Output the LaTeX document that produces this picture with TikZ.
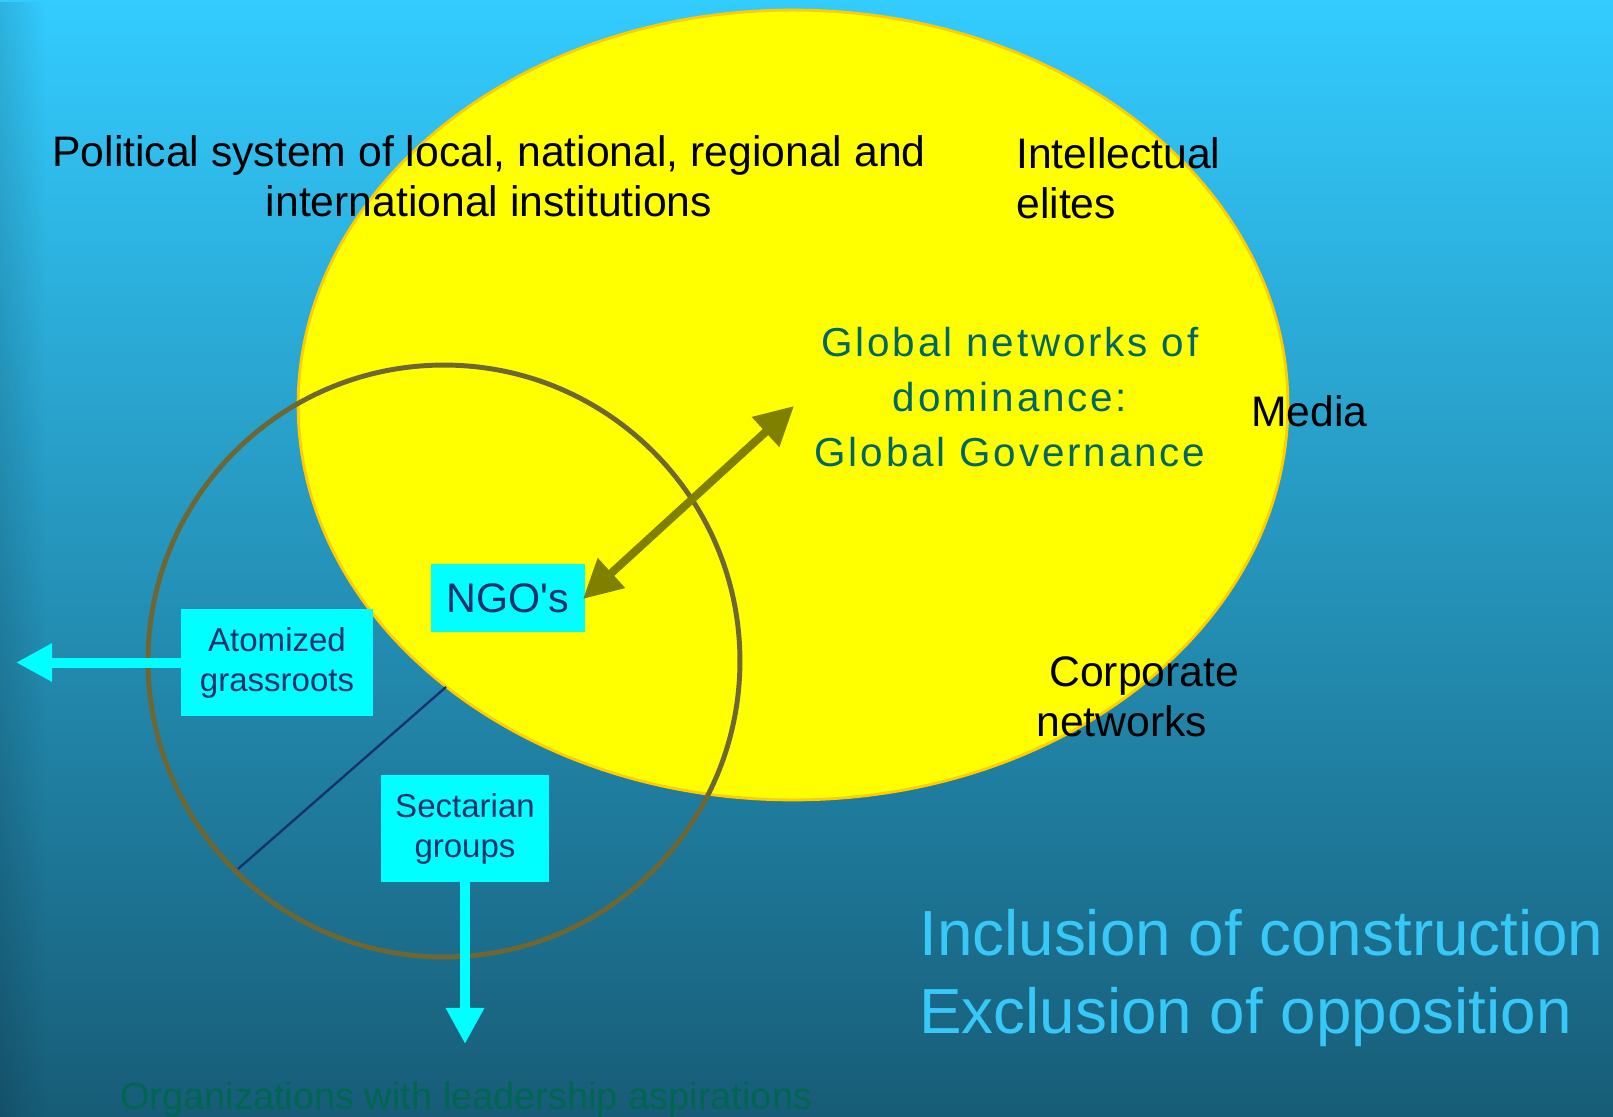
\documentclass[tikz,border=0pt]{standalone}
\usepackage{fontspec}
\setmainfont{Liberation Sans}
\newfontfamily\widefont[LetterSpace=7]{Liberation Sans}
\usetikzlibrary{arrows.meta,fadings}
\definecolor{bgtop}{HTML}{33CCFF}
\definecolor{bgbot}{HTML}{175C77}
\definecolor{sunfill}{HTML}{FFFF00}
\definecolor{sunrim}{HTML}{FFCC00}
\definecolor{ringcol}{HTML}{6E6633}
\definecolor{boxcyan}{HTML}{00FFFF}
\definecolor{boxtext}{HTML}{12306A}
\definecolor{globtext}{HTML}{006666}
\definecolor{inctext}{HTML}{38C8F8}
\definecolor{orgtext}{HTML}{006650}
\definecolor{linkcol}{HTML}{808000}

\begin{document}
\begin{tikzpicture}[x=0.02cm, y=-0.02cm,
    every node/.style={inner sep=0pt},
    box/.style={fill=boxcyan, text=boxtext, align=center},
    txt/.style={text=black, font=\fontsize{24.3}{28.5}\selectfont},
    push/.style={draw=boxcyan, line width=5.7pt, -{Triangle[length=20.5pt, width=20.5pt]}},
    link/.style={draw=linkcol, line width=4.6pt,
        {Triangle[length=22pt, width=22pt]}-{Triangle[length=22pt, width=22pt]}}]

    % Background
    \useasboundingbox (0,0) rectangle (1613,1116);
    \shade[top color=bgtop, bottom color=bgbot] (0,0) rectangle (1613,1116);
    \fill[black, opacity=0.12, path fading=east] (0,0) rectangle (45,1116);

    % Yellow ellipse and ring
    \filldraw[fill=sunfill, draw=sunrim, line width=1.6pt] (793,405) ellipse [x radius=9.9cm, y radius=7.9cm];
    \draw[ringcol, line width=2.8pt] (444,661) circle [radius=5.92cm];
    \coordinate (chordtop) at (446,687);
    \coordinate (chordbot) at (238,869);
    \draw[boxtext, line width=1.3pt] (chordtop) -- (chordbot);

    % Texts
    \node[txt, align=center] (pol) at (489,176) {Political system of local, national, regional and\\international institutions};
    \node[txt, align=left, anchor=west] (intel) at (1016,178) {Intellectual\\elites};
    \node[txt, anchor=west] (media) at (1251,411) {Media};
    \node[txt, align=left, anchor=west] (corp) at (1036,697) {\hspace*{0.26cm}Corporate\\networks};
    \node[text=globtext, align=center, font=\widefont\fontsize{23}{31.3}\selectfont] (glob) at (1010,397)
        {Global networks of\\dominance:\\Global Governance};
    \node[text=inctext, align=left, anchor=west, font=\fontsize{36.3}{44.4}\selectfont] (incl) at (919,978)
        {Inclusion of construction\\Exclusion of opposition};
    \node[text=orgtext, anchor=west, font=\fontsize{21.6}{26}\selectfont] (org) at (120,1100)
        {Organizations with leadership aspirations};

    % Boxes
    \node[box, minimum width=3.08cm, minimum height=1.36cm, font=\fontsize{23.5}{26}\selectfont] (ngo) at (508,598) {NGO\textquotesingle s};
    \node[box, minimum width=3.84cm, minimum height=2.14cm, font=\fontsize{18.8}{22.8}\selectfont] (atom) at (277,662.5) {Atomized\\grassroots};
    \node[box, minimum width=3.36cm, minimum height=2.14cm, font=\fontsize{18.8}{22.8}\selectfont] (sect) at (465,828.5) {Sectarian\\groups};

    % Arrows
    \coordinate (ngotip) at (583,599);
    \coordinate (globtip) at (794,406);
    \draw[link] (ngotip) -- (globtip);
    \coordinate (atomtip) at (16,662.5);
    \coordinate (secttip) at (465,1044);
    \draw[push] (atom.west) -- (atomtip);
    \draw[push] (sect.south) -- (secttip);
\end{tikzpicture}
\end{document}
